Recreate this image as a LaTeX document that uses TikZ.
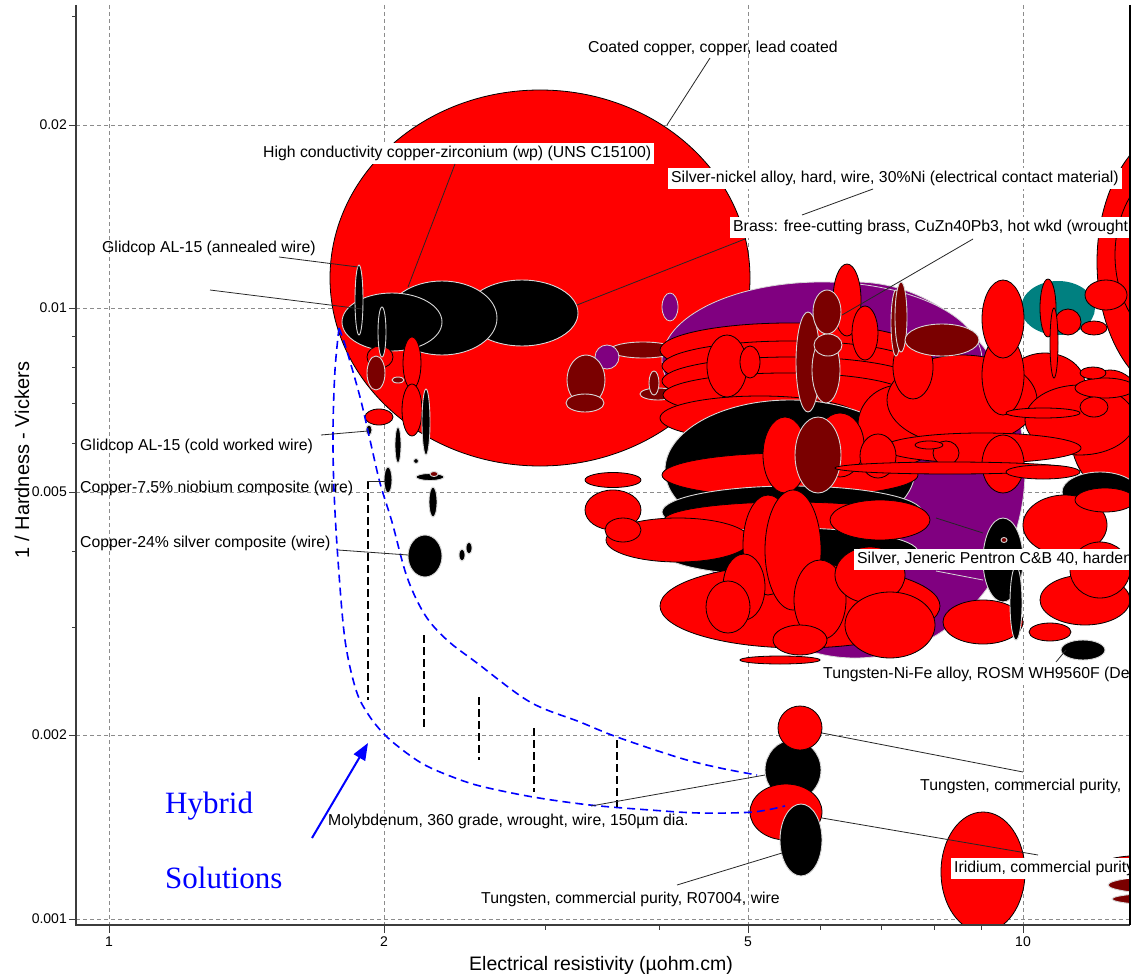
\documentclass[tikz,border=0pt]{standalone}
\usepackage{fontspec}
\setmainfont{Liberation Sans}
\newfontfamily\hybridfont{Liberation Serif}
\usetikzlibrary{arrows.meta}
\definecolor{pRed}{RGB}{255,0,0}
\definecolor{pMaroon}{RGB}{122,0,0}
\definecolor{pPurple}{RGB}{128,0,128}
\definecolor{pTeal}{RGB}{0,128,128}
\definecolor{rimgray}{RGB}{215,215,215}
\definecolor{gridgray}{RGB}{140,140,140}
\definecolor{axisgray}{RGB}{60,60,60}
\definecolor{hyblue}{RGB}{0,0,255}
% one material bubble: centre x, centre y, radius x, radius y, style
\newcommand{\blob}[5]{\path[#5] (#1,#2) ellipse [x radius=#3pt, y radius=#4pt];}
\newcommand{\lblfont}{\fontsize{15.8}{18}\selectfont}
\newcommand{\tickfont}{\fontsize{14}{16}\selectfont}
\begin{document}
\begin{tikzpicture}[x=1pt,y=-1pt,
  rd/.style={fill=pRed,draw=black,line width=0.8pt},
  bk/.style={fill=black,draw=rimgray,line width=0.9pt},
  mr/.style={fill=pMaroon,draw=rimgray,line width=0.9pt},
  pu/.style={fill=pPurple,draw=rimgray,line width=0.8pt},
  tl/.style={fill=pTeal},
  gridln/.style={draw=gridgray,line width=0.8pt,dash pattern=on 4pt off 3pt},
  axisln/.style={draw=axisgray,line width=1.4pt},
  tickln/.style={draw=axisgray,line width=1pt},
  lbl/.style={font=\lblfont,text height=11.5pt,text depth=3.5pt,inner xsep=3pt,inner ysep=3pt,anchor=west},
  boxed/.style={lbl,fill=white},
  leader/.style={draw=black!85,line width=0.8pt},
  softleader/.style={draw=rimgray,line width=0.8pt},
  hybridcurve/.style={draw=hyblue,line width=1.6pt,dash pattern=on 8pt off 5pt},
  bandline/.style={draw=black,line width=1.5pt,dash pattern=on 8pt off 4pt},
  ticklbl/.style={font=\tickfont,inner sep=0pt,text depth=0pt},
  hybtext/.style={font=\hybridfont\fontsize{31}{34}\selectfont,text=hyblue,anchor=base west,inner sep=0pt},
]
\useasboundingbox[fill=white] (0,0) rectangle (1136,974);

% ---------- grid ----------
\foreach \gx in {109,384,748,1023} \draw[gridln] (\gx,5) -- (\gx,925);
\foreach \gy in {125,308,492,735,919} \draw[gridln] (76,\gy) -- (1130,\gy);

\begin{scope}
\clip (76,5) rectangle (1130,925);

% ---------- large background bubbles ----------
\blob{540}{278}{210}{188}{rd}
\blob{1185}{262}{88}{137}{rd}
\blob{1195}{255}{80}{100}{rd}
\blob{855}{470}{170}{188}{pu}
\blob{822}{360}{160}{78}{pu}
\blob{1058}{308}{37}{27}{tl}

% ---------- copper alloys (upper left) ----------
\blob{522}{313}{56}{33}{bk}
\blob{442}{318}{55}{37}{bk}
\blob{392}{322}{50}{29}{bk}
\blob{359}{300}{4}{35}{bk}
\blob{380}{357}{13}{11}{rd}
\blob{382}{332}{4}{25}{bk}
\blob{376}{373}{9}{17}{mr}
\blob{398}{380}{6}{3}{mr}
\blob{412}{363}{9}{26}{rd}
\blob{412}{410}{10}{26}{rd}
\blob{426}{422}{4}{33}{bk}
\blob{379}{417}{14}{8}{rd}
\blob{369}{430}{3}{5}{bk}
\blob{398}{445}{3}{18}{bk}
\blob{416}{461}{2.5}{2.5}{bk}
\blob{388}{480}{4}{13}{bk}
\blob{430}{477}{14}{3.5}{bk}
\blob{434}{474}{4}{2.5}{mr}
\blob{433}{502}{4}{15}{bk}
\blob{425}{556}{17}{21}{bk}
\blob{462}{555}{3}{6}{bk}
\blob{469}{548}{3}{6}{bk}

% ---------- small bubbles on the coated copper field ----------
\blob{670}{307}{8}{14}{pu}
\blob{643}{350}{33}{8}{mr}
\blob{607}{357}{12}{12}{pu}
\blob{586}{380}{19}{25}{mr}
\blob{585}{403}{19}{9}{mr}
\blob{658}{394}{18}{6}{mr}
\blob{654}{383}{5}{12}{mr}
\blob{613}{480}{28}{7.5}{rd}

% ---------- central cluster: stacked layers ----------
\blob{790}{350}{130}{27}{rd}
\blob{790}{366}{128}{25}{rd}
\blob{790}{381}{128}{24}{rd}
\blob{785}{395}{122}{22}{rd}
\blob{760}{418}{100}{22}{rd}
\blob{790}{470}{125}{70}{bk}
\blob{790}{475}{128}{22}{rd}
\blob{792}{512}{130}{26}{bk}
\blob{790}{520}{126}{18}{rd}
\blob{790}{552}{128}{24}{bk}
\blob{800}{606}{140}{42}{rd}

% ---------- central cluster: single bubbles ----------
\blob{900}{425}{42}{40}{rd}
\blob{727}{366}{20}{31}{rd}
\blob{750}{362}{10}{16}{rd}
\blob{847}{300}{14}{36}{rd}
\blob{785}{455}{22}{38}{rd}
\blob{808}{362}{12}{50}{mr}
\blob{826}{370}{14}{33}{mr}
\blob{827}{312}{14}{22}{mr}
\blob{828}{345}{14}{11}{mr}
\blob{840}{445}{24}{32}{rd}
\blob{818}{455}{23}{38}{mr}

\blob{613}{510}{28}{20}{rd}
\blob{678}{540}{72}{22}{rd}
\blob{623}{530}{18}{12}{rd}
\blob{768}{545}{25}{50}{rd}
\blob{793}{550}{28}{60}{rd}
\blob{744}{587}{21}{33}{rd}
\blob{728}{607}{22}{26}{rd}
\blob{820}{600}{26}{40}{rd}
\blob{800}{640}{27}{15}{rd}
\blob{780}{660}{40}{4}{rd}

% ---------- right cluster ----------
\blob{1110}{430}{40}{60}{rd}
\blob{1045}{385}{40}{32}{rd}
\blob{880}{520}{50}{20}{rd}
\blob{870}{575}{35}{28}{rd}
\blob{890}{625}{45}{33}{rd}
\blob{962}{400}{75}{45}{rd}
\blob{865}{333}{13}{27}{rd}
\blob{913}{367}{20}{32}{rd}
\blob{896}{323}{5}{33}{mr}
\blob{901}{317}{6}{35}{mr}
\blob{942}{340}{37}{16}{mr}
\blob{1003}{375}{21}{40}{rd}
\blob{1003}{319}{21}{39}{rd}
\blob{1048}{308}{8}{29}{rd}
\blob{1068}{322}{13}{13}{rd}
\blob{1054}{343}{4}{35}{rd}
\blob{1106}{295}{21}{15}{rd}
\blob{1094}{328}{13}{7}{rd}
\blob{1080}{420}{55}{35}{rd}
\blob{1105}{388}{30}{10}{rd}
\blob{1093}{373}{13}{6}{rd}
\blob{1094}{407}{14}{10}{rd}
\blob{1043}{413}{37}{5}{rd}
\blob{982}{448}{99}{15}{rd}
\blob{878}{456}{18}{22}{rd}
\blob{946}{453}{13}{12}{rd}
\blob{929}{445}{14}{4}{rd}
\blob{1003}{464}{21}{29}{rd}
\blob{950}{468}{115}{6}{rd}
\blob{1043}{472}{37}{7}{rd}
\blob{1100}{492}{38}{20}{bk}
\blob{1065}{525}{42}{30}{rd}
\blob{1105}{500}{30}{12}{rd}
\blob{1003}{560}{20}{42}{bk}
\blob{1004}{540}{3}{2.5}{mr}
\blob{983}{622}{40}{22}{rd}
\blob{1016}{603}{6}{37}{bk}
\blob{1083}{650}{22}{10}{bk}
\blob{1085}{600}{45}{25}{rd}
\blob{1100}{570}{30}{28}{rd}
\blob{1050}{632}{21}{9}{rd}

% ---------- tungsten, molybdenum, iridium ----------
\blob{793}{770}{28}{30}{bk}
\blob{800}{728}{22}{22}{rd}
\blob{786}{812}{36}{28}{rd}
\blob{801}{840}{21}{36}{bk}
\blob{983}{872}{42}{60}{rd}
\blob{1185}{860}{75}{6}{rd}
\blob{1190}{885}{82}{10}{mr}
\blob{1190}{899}{78}{7}{mr}

% ---------- hybrid envelope ----------
\draw[hybridcurve] plot[smooth,tension=0.55] coordinates {(339,328) (335,370) (333,430) (334,490) (338,560) (345,640) (356,690) (368,714) (383,733) (400,748) (423,764) (450,776) (480,786) (533,797) (590,805) (650,810) (700,813) (753,812) (785,806)};
\draw[hybridcurve] plot[smooth,tension=0.55] coordinates {(339,328) (346,348) (360,397) (370,440) (380,483) (392,522) (407,577) (425,615) (447,640) (477,663) (530,702) (580,722) (617,737) (680,758) (720,768) (757,775)};

\foreach \bx/\btop/\bbot in {368/481/700,424/635/728,479/697/760,534/728/792,617/740/807}
  \draw[bandline] (\bx,\btop) -- (\bx,\bbot);

% ---------- labels ----------
\node[lbl]   (coat)  at (585,49)    {Coated copper, copper, lead coated};
\node[boxed] (hcz)   at (260,153.5) {High conductivity copper-zirconium (wp) (UNS C15100)};
\node[boxed] (sn)    at (668,178)   {Silver-nickel alloy, hard, wire, 30\%Ni (electrical contact material)};
\node[boxed] (brass) at (730,227.5) {Brass: free-cutting brass, CuZn40Pb3, hot wkd (wrought};
\node[lbl]   (glann) at (99,248)    {Glidcop AL-15 (annealed wire)};
\node[lbl]   (glcw)  at (77,446)    {Glidcop AL-15 (cold worked wire)};
\node[lbl]   (nb)    at (77,488)    {Copper-7.5\% niobium composite (wire)};
\node[lbl]   (ag)    at (77,543)    {Copper-24\% silver composite (wire)};
\node[boxed] (sj)    at (854,559.5) {Silver, Jeneric Pentron C\&B 40, harden};
\node[boxed] (tnf)   at (820,674)   {Tungsten-Ni-Fe alloy, ROSM WH9560F (Den};
\node[lbl]   (tcp)   at (917,786)   {Tungsten, commercial purity,};
\node[boxed] (ir)    at (951,868)   {Iridium, commercial purity};
\node[lbl]   (mo)    at (325,821)   {Molybdenum, 360 grade, wrought, wire, 150µm dia.};
\node[lbl]   (tw)    at (478,899)   {Tungsten, commercial purity, R07004, wire};

% ---------- leader lines ----------
\coordinate (coatA) at (710,58);   \coordinate (coatB) at (667,125);
\coordinate (hczA)  at (455,164);  \coordinate (hczB)  at (408,287);
\coordinate (snA)   at (873,189);  \coordinate (snB)   at (802,215);
\coordinate (brA)   at (745,239);  \coordinate (brB)   at (577,305);
\coordinate (brC)   at (973,239);  \coordinate (brD)   at (842,315);
\coordinate (gaA)   at (279,257);  \coordinate (gaB)   at (358,267);
\coordinate (czA)   at (210,290);  \coordinate (czB)   at (362,309);
\coordinate (gcA)   at (321,435);  \coordinate (gcB)   at (368,431);
\coordinate (nbA)   at (367,481);  \coordinate (nbB)   at (386,481);
\coordinate (agA)   at (338,550);  \coordinate (agB)   at (408,555);
\coordinate (sjA)   at (936,518);  \coordinate (sjB)   at (983,533);
\coordinate (sjC)   at (936,571);  \coordinate (sjD)   at (983,580);
\coordinate (tnA)   at (1056,662); \coordinate (tnB)   at (1066,650);
\coordinate (tcA)   at (1023,772); \coordinate (tcB)   at (822,733);
\coordinate (irA)   at (1038,855); \coordinate (irB)   at (822,818);
\coordinate (moA)   at (591,806);  \coordinate (moB)   at (765,775);
\coordinate (twA)   at (677,885);  \coordinate (twB)   at (782,853);
\draw[leader] (coatA) -- (coatB);
\draw[leader] (hczA) -- (hczB);
\draw[leader] (snA) -- (snB);
\draw[leader] (brA) -- (brB);
\draw[leader] (brC) -- (brD);
\draw[leader] (gaA) -- (gaB);
\draw[leader] (czA) -- (czB);
\draw[leader] (gcA) -- (gcB);
\draw[leader] (nbA) -- (nbB);
\draw[leader] (agA) -- (agB);
\draw[leader] (sjA) -- (sjB);
\draw[softleader] (sjC) -- (sjD);
\draw[leader] (tnA) -- (tnB);
\draw[leader] (tcA) -- (tcB);
\draw[leader] (irA) -- (irB);
\draw[leader] (moA) -- (moB);
\draw[leader] (twA) -- (twB);

% ---------- hybrid annotation ----------
\node[hybtext] (hyb) at (165,813) {Hybrid};
\node[hybtext] (sol) at (165,888) {Solutions};
\coordinate (arrS) at (312,838);
\coordinate (arrE) at (368,743);
\draw[draw=hyblue,line width=2pt,-{Triangle[length=17pt,width=13pt]}] (arrS) -- (arrE);
\end{scope}

% ---------- axes ----------
\draw[axisln] (76,5) -- (76,925) -- (1130,925);
\draw[draw=black,line width=1.4pt] (1130,5) -- (1130,925);
\foreach \ty/\tl in {125/0.02,308/0.01,492/0.005,735/0.002,919/0.001}{
  \draw[tickln] (69,\ty) -- (76,\ty);
  \node[ticklbl,anchor=east] at (67,\ty) {\tl};
}
\foreach \ty in {16.5,336,367,403,443.5,551,627.5} \draw[tickln] (72,\ty) -- (76,\ty);
\foreach \tx/\tl in {109/1,384/2,748/5,1023/10}{
  \draw[tickln] (\tx,925) -- (\tx,933);
  \node[ticklbl] at (\tx,942) {\tl};
}
\foreach \tx in {545,659,820,881,934,981} \draw[tickln] (\tx,925) -- (\tx,930);

\node[font=\fontsize{19.5}{22}\selectfont,anchor=base,inner sep=0pt] (xtitle) at (601,970) {Electrical resistivity (µohm.cm)};
\node[font=\fontsize{20}{22}\selectfont,anchor=base,rotate=90,inner sep=0pt] (ytitle) at (29,460) {1 / Hardness - Vickers};
\end{tikzpicture}
\end{document}
